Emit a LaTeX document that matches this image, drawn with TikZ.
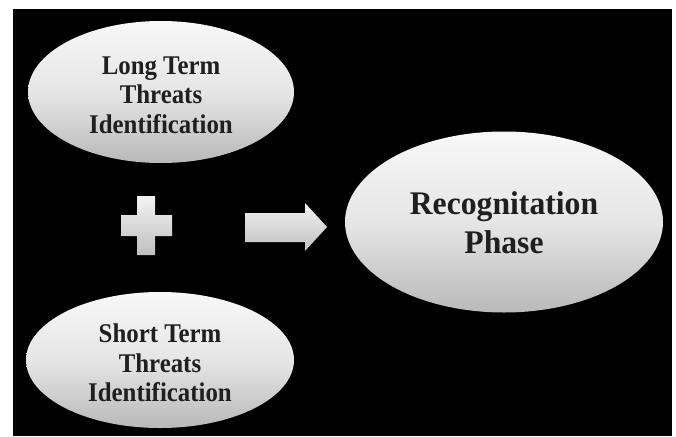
\documentclass[tikz,border=0pt]{standalone}
\usepackage{fontspec}
\setmainfont{Liberation Serif}
\newfontfamily\condA[FakeStretch=0.92]{Liberation Serif}
\newfontfamily\condB[FakeStretch=0.96]{Liberation Serif}
\usetikzlibrary{shapes.geometric}
\tikzset{
  oval/.style={ellipse, inner sep=0pt, top color=gray!6, bottom color=gray!55, middle color=gray!20,
    text=black!88, align=center},
  smalltext/.style={font=\condA\bfseries\fontsize{27}{29.5}\selectfont},
  bigtext/.style={font=\condB\bfseries\fontsize{33}{39}\selectfont},
  shapefill/.style={top color=gray!10, bottom color=gray!50}
}
\begin{document}
\begin{tikzpicture}[x=1pt,y=-1pt]
\useasboundingbox (0,0) rectangle (676,436);
\fill[black] (13,9) rectangle (672,436);
\node[oval, smalltext, minimum width=266pt, minimum height=142pt] (lt) at (161,92) {};
\node[smalltext, align=center, text=black!88] (ltt) at (161,95) {Long Term\\Threats\\Identification};
\node[oval, smalltext, minimum width=268pt, minimum height=136pt] (st) at (160,360) {};
\node[smalltext, align=center, text=black!88] (stt) at (160,363) {Short Term\\Threats\\Identification};
\node[oval, bigtext, minimum width=318pt, minimum height=181pt] (rp) at (504,222) {};
\node[bigtext, align=center, text=black!88] (rpt) at (504,223) {Recognitation\\Phase};
\shade[shapefill] (137,196) -- (155,196) -- (155,215) -- (172,215) -- (172,236) -- (155,236) -- (155,255) -- (137,255) -- (137,236) -- (121,236) -- (121,215) -- (137,215) -- cycle;
\shade[shapefill] (245,213) -- (305,213) -- (305,203) -- (327,227) -- (305,251) -- (305,242) -- (245,242) -- cycle;
\end{tikzpicture}
\end{document}
